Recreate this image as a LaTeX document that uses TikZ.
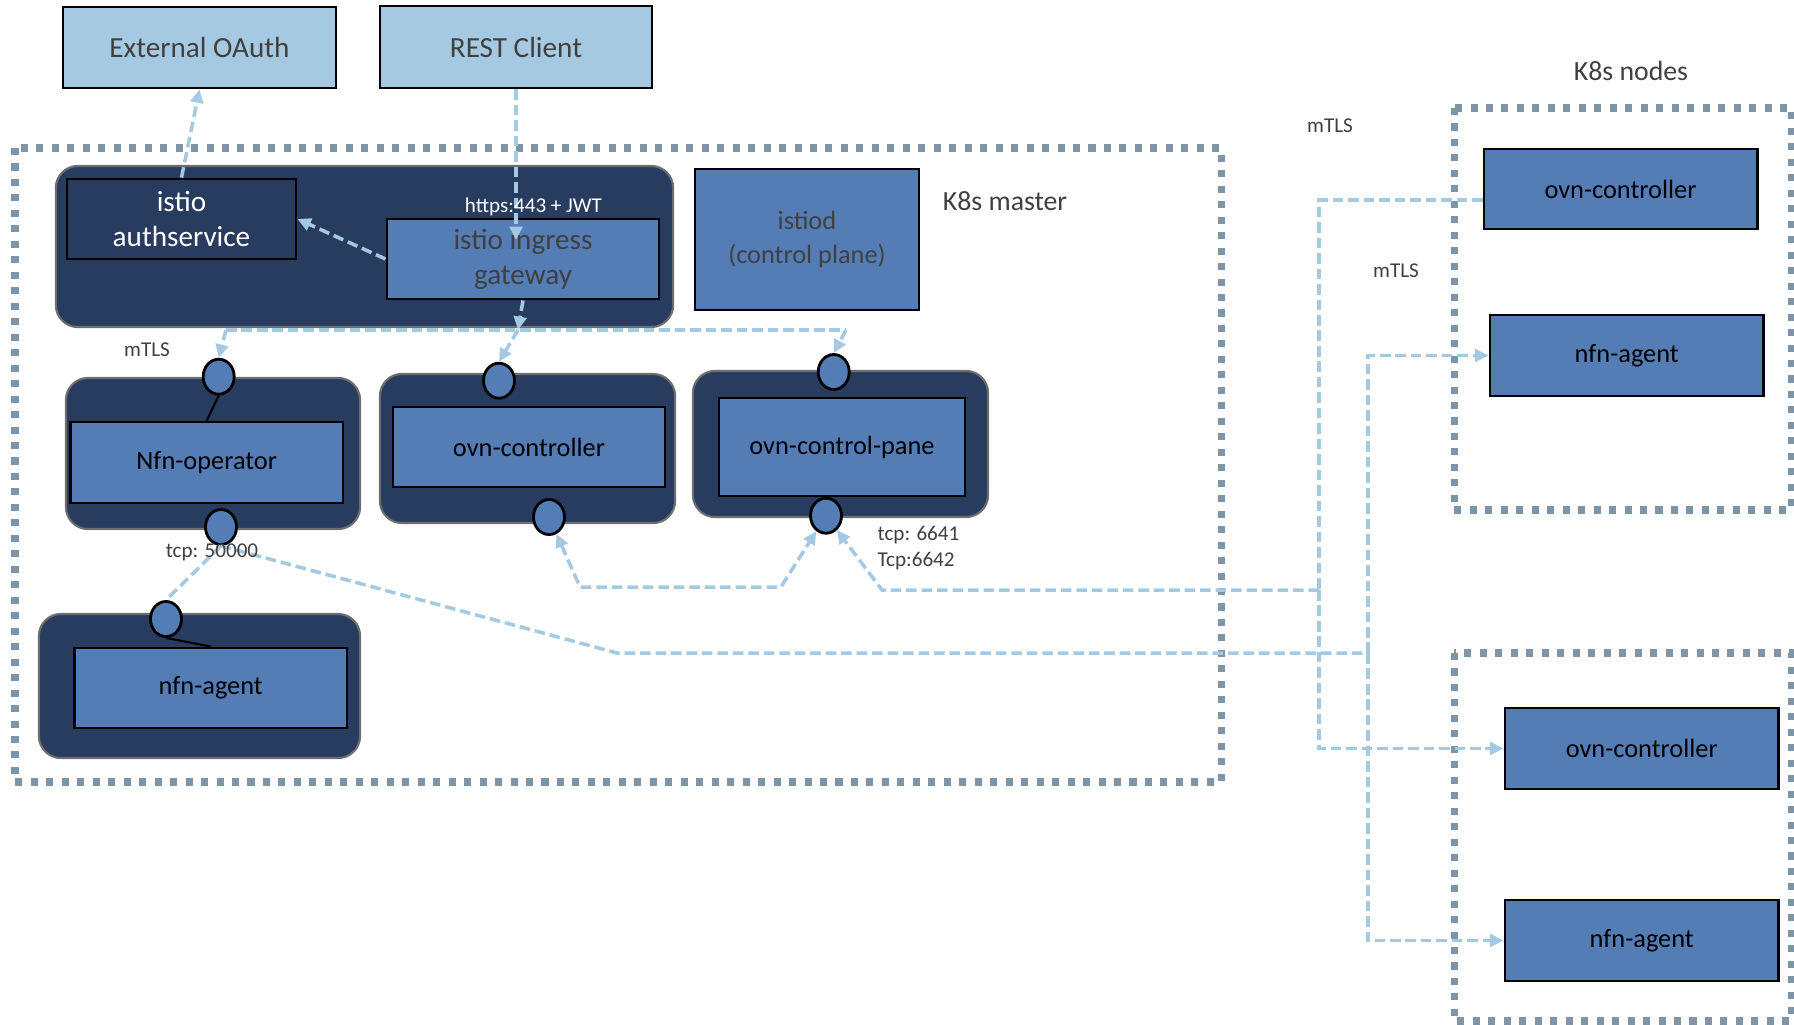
\documentclass[tikz,border=0pt]{standalone}
\usepackage{fontspec}
\setmainfont{Carlito}
\usepackage{tikz}
\usetikzlibrary{shapes.geometric,arrows.meta}

\definecolor{navy}{RGB}{40,60,95}
\definecolor{midblue}{RGB}{84,124,181}
\definecolor{skyblue}{RGB}{166,201,226}
\definecolor{wire}{RGB}{164,201,227}
\definecolor{zonegray}{RGB}{125,149,166}
\definecolor{textgray}{RGB}{64,64,64}
\definecolor{podedge}{RGB}{110,110,110}

\begin{document}
\begin{tikzpicture}[x=0.01cm, y=-0.01cm,
  pod/.style={draw=podedge, line width=0.6pt, fill=navy, rounded corners=0.22cm, inner sep=0pt},
  svc/.style={draw=black, line width=0.8pt, fill=midblue, inner sep=0pt, align=center,
    minimum width=2.72cm, minimum height=0.8cm, font=\fontsize{7.5}{9.5}\selectfont},
  ext/.style={svc, fill=skyblue, text=textgray, font=\fontsize{8.3}{10}\selectfont},
  port/.style={ellipse, draw=black, line width=0.8pt, fill=midblue, inner sep=0pt,
    minimum width=0.31cm, minimum height=0.35cm},
  link/.style={wire, line width=1pt, dash pattern=on 3pt off 1.4pt},
  tip/.style={-{Triangle[length=3.8pt,width=3.6pt]}},
  zone/.style={zonegray, line width=2pt, dash pattern=on 2pt off 2.4pt},
  tag/.style={text=textgray, font=\fontsize{6}{7}\selectfont, inner sep=0pt}
]
\useasboundingbox (0,0) rectangle (1794,1024);

% zones
\draw[zone] (15,148) rectangle (1221,782);
\draw[zone] (1454,108) rectangle (1791,510);
\draw[zone] (1454,653) rectangle (1791,1021);

% outside
\node[ext, minimum width=2.73cm, minimum height=0.81cm] (oauth) at (199.5,47.5) {External OAuth};
\node[ext, minimum height=0.82cm] (rest) at (516,47) {REST Client};

% master
\node[pod, minimum width=6.17cm, minimum height=1.61cm] (meshpod) at (364.5,246.5) {};
\node[svc, fill=navy, text=white, minimum width=2.29cm, font=\fontsize{8.3}{10}\selectfont] (authsvc) at (181.5,219) {istio\\authservice};
\node[svc, text=textgray, font=\fontsize{8.3}{10}\selectfont] (ingress) at (523,259) {istio ingress\\gateway};
\node[svc, text=textgray, minimum width=2.24cm, minimum height=1.41cm] (istiod) at (807,239.5) {istiod\\(control plane)};
\node[text=textgray, font=\fontsize{7.9}{9}\selectfont] (masterlbl) at (1005,201) {K8s master};

\node[pod, minimum width=2.94cm, minimum height=1.51cm] (oppod) at (213,453.5) {};
\node[svc, minimum width=2.725cm, minimum height=0.81cm] (nfnop) at (206.75,462.5) {Nfn-operator};
\node[pod, minimum width=2.95cm, minimum height=1.49cm] (ovnpod) at (527.5,448.5) {};
\node[svc] (ovnc) at (529,447) {ovn-controller};
\node[pod, minimum width=2.95cm, minimum height=1.46cm] (panepod) at (840.5,444) {};
\node[svc, minimum width=2.46cm, minimum height=0.98cm] (ovncp) at (842,447) {ovn-control-pane};
\node[pod, minimum width=3.21cm, minimum height=1.44cm] (agentpod) at (199.5,686) {};
\node[svc, minimum width=2.725cm] (agent) at (210.75,688) {nfn-agent};

\node[port] (p1in) at (218.7,376.7) {};
\node[port] (p1out) at (221,527) {};
\node[port] (p2in) at (499,380.7) {};
\node[port] (p2out) at (549,517) {};
\node[port] (p3in) at (833.7,372) {};
\node[port] (p3out) at (826,515.7) {};
\node[port] (p4in) at (166,619) {};
\draw[line width=0.6pt] (p1in.south) -- (nfnop.north);
\draw[line width=0.6pt] (p4in.south) -- (agent.north);

% nodes
\node[text=textgray, font=\fontsize{7.9}{9}\selectfont] (nodeslbl) at (1631,71) {K8s nodes};
\node[svc, minimum width=2.73cm] (ovn1) at (1620.5,189) {ovn-controller};
\node[svc, minimum width=2.735cm, minimum height=0.81cm] (agent1) at (1626.75,355.5) {nfn-agent};
\node[svc, minimum width=2.735cm, minimum height=0.81cm] (ovn2) at (1641.75,748.5) {ovn-controller};
\node[svc, minimum width=2.735cm, minimum height=0.81cm] (agent2) at (1641.75,940.5) {nfn-agent};

% links
\coordinate (jwt) at (516,240);
\coordinate (bus) at (518,330);
\coordinate (busl) at (226,330);
\coordinate (busr) at (846,330);
\draw[link, tip] (authsvc.north) -- (oauth.south);
\draw[link, tip] (rest.south) -- (jwt);
\draw[link, tip] (ingress.west) -- (authsvc.east);
\draw[link, tip] (ingress.south) -- (bus);
\draw[link] (busl) -- (busr);
\draw[link, tip] (busl) -- (p1in.north);
\draw[link, tip] (bus) -- (p2in.north);
\draw[link, tip] (busr) -- (p3in.north);

\draw[link] (p1out.south) -- (p4in.north);
\coordinate (k1) at (617,653);
\coordinate (k2) at (1368,653);
\draw[link] (p1out.south) -- (k1) -- (k2);
\draw[link, tip] (k2) |- (agent1.west);
\draw[link, tip] (k2) |- (agent2.west);

\coordinate (m1) at (1319,590);
\coordinate (m2) at (882,590);
\draw[link] ([yshift=-0.11cm]ovn1.west) -| (m1);
\draw[link, tip] (m1) -- (m2) -- (p3out);
\draw[link, tip] (m1) |- (ovn2.west);
\draw[link, {Triangle[length=3.8pt,width=3.6pt]}-{Triangle[length=3.8pt,width=3.6pt]}] (p2out) -- (580,587) -- (781,587) -- (p3out);

% labels
\node[text=white, font=\fontsize{6}{7}\selectfont, inner sep=0pt] (jwtlbl) at (533.5,207) {https:443 + JWT};
\node[tag] (mtls1) at (147,350) {mTLS};
\node[tag] (tcp1) at (212,552) {tcp: 50000};
\node[tag, anchor=west] (tcp2) at (877,535) {tcp: 6641};
\node[tag, anchor=west] (tcp3) at (877,561) {Tcp:6642};
\node[tag] (mtls2) at (1330,126) {mTLS};
\node[tag] (mtls3) at (1396,271) {mTLS};
\end{tikzpicture}
\end{document}
